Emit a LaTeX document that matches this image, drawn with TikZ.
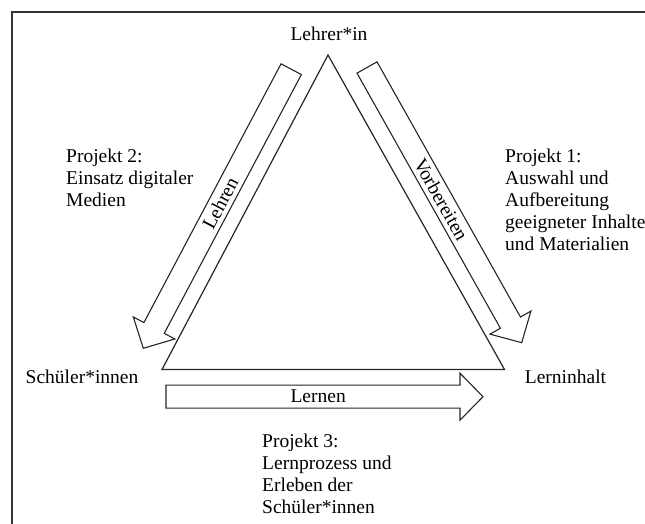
\documentclass[tikz,border=0pt]{standalone}
\usepackage{fontspec}
\setmainfont{Liberation Serif}
\usetikzlibrary{calc}
\tikzset{
  frameline/.style={line width=1.6pt, draw=black!80},
  triline/.style={line width=1.2pt, draw=black!85, line join=miter},
  arrowbox/.style={line width=1.1pt, draw=black!85, fill=white, line join=miter},
  lbl/.style={font=\fontsize{19.5}{22}\selectfont, inner sep=0pt},
  project/.style={lbl, align=left, anchor=north west},
}
% block arrow from tail #1 to tip #2, text #3 along it
\newcommand{\blockarrow}[3]{%
  \coordinate (bh) at ($(#2)!23pt!(#1)$);
  \draw[arrowbox] ($(#1)!11.5pt!90:(#2)$) -- ($(bh)!11.5pt!90:(#2)$)
    -- ($(bh)!23.5pt!90:(#2)$) -- (#2) -- ($(bh)!23.5pt!-90:(#2)$)
    -- ($(bh)!11.5pt!-90:(#2)$) -- ($(#1)!11.5pt!-90:(#2)$) -- cycle;
  \path (#1) -- (#2) node[lbl, pos=0.48, sloped] {#3};
}

\begin{document}
\begin{tikzpicture}[x=1pt, y=1pt]
  \useasboundingbox (0,0) rectangle (645,524);
  \clip (0,0) rectangle (645,524);
  % frame, cut off at right and bottom
  \draw[frameline] (11.7,-20) |- (670,511.7);
  % triangle
  \coordinate (apex) at (328,469);
  \coordinate (left) at (162,154.5);
  \coordinate (right) at (504.5,154.5);
  \draw[triline] (apex) -- (left) -- (right) -- cycle;
  % corners
  \node[lbl] (lehrer) at (329,490) {Lehrer*in};
  \node[lbl, anchor=west] (schueler) at (25.5,147) {Schüler*innen};
  \node[lbl, anchor=west] (inhalt) at (524.7,147) {Lerninhalt};
  % block arrows
  \coordinate (lehrenA) at (291.2,454.8);
  \coordinate (lehrenB) at (143.3,175.7);
  \coordinate (vorbA) at (367,456.5);
  \coordinate (vorbB) at (521.7,181.3);
  \coordinate (lernenA) at (166,127.3);
  \coordinate (lernenB) at (483,127.3);
  \blockarrow{lehrenA}{lehrenB}{Lehren}
  \blockarrow{vorbA}{vorbB}{Vorbereiten}
  \blockarrow{lernenA}{lernenB}{Lernen}
  % projects
  \node[project] (proj2) at (66,375.5) {Projekt 2:\\Einsatz digitaler\\Medien};
  \node[project] (proj1) at (505,375.5) {Projekt 1:\\Auswahl und\\Aufbereitung\\geeigneter Inhalte\\und Materialien};
  \node[project] (proj3) at (262,90.5) {Projekt 3:\\Lernprozess und\\Erleben der\\Schüler*innen};
\end{tikzpicture}
\end{document}
